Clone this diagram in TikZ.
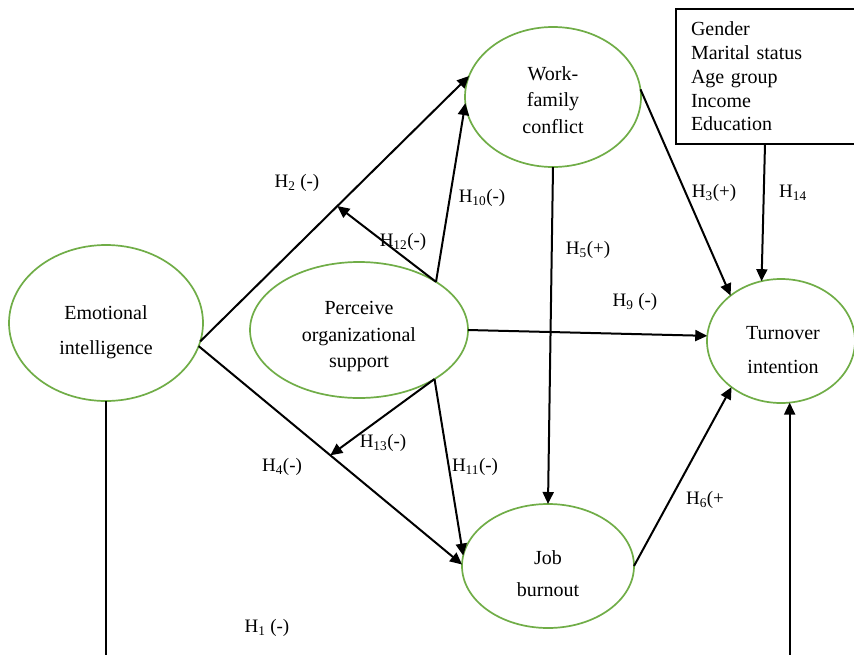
\documentclass[tikz,border=0pt]{standalone}
\usepackage{fontspec}
\setmainfont{Liberation Serif}
\usetikzlibrary{arrows.meta,calc,shapes.geometric}
\definecolor{elgreen}{RGB}{112,173,71}
\begin{document}
\begin{tikzpicture}[x=1pt,y=-1pt,
  var/.style={ellipse,draw=elgreen,line width=1.7pt,inner sep=0pt,outer sep=0pt},
  vtext/.style={align=center,inner sep=0pt},
  arr/.style={draw=black,line width=2pt,-{Triangle[length=12pt,width=11pt]}},
  hyp/.style={font=\fontsize{19}{22}\selectfont,inner sep=0pt}
]
\useasboundingbox (0,0) rectangle (854,654);
\clip (0,0) rectangle (854,654);
\fill[white] (0,0) rectangle (854,654);

% constructs
\node[var,minimum width=194pt,minimum height=156pt] (ei) at (106,323) {};
\node[var,minimum width=218pt,minimum height=136pt] (pos) at (359,330) {};
\node[var,minimum width=176pt,minimum height=140pt] (wfc) at (553,97) {};
\node[var,minimum width=172pt,minimum height=124pt] (job) at (548,566) {};
\node[var,minimum width=148pt,minimum height=124pt] (ti) at (781,341) {};

\node[vtext,font=\fontsize{20}{35}\selectfont] (eit) at (106,332) {Emotional\\intelligence};
\node[vtext,font=\fontsize{20}{26.5}\selectfont] (post) at (359,337) {Perceive\\organizational\\support};
\node[vtext,font=\fontsize{20}{26.5}\selectfont] (wfct) at (553,100) {Work-\\family\\conflict};
\node[vtext,font=\fontsize{20}{32}\selectfont] (jobt) at (548,574) {Job\\burnout};
\node[vtext,font=\fontsize{20}{34}\selectfont] (tit) at (783,350) {Turnover\\intention};

% control variables box
\node[draw,line width=1.3pt,anchor=north west,minimum height=135pt,text width=170pt,inner xsep=15pt,inner ysep=0pt,outer sep=0pt,align=left,font=\fontsize{20}{23.75}\selectfont] (ctrl) at (676,9) {Gender\\Marital status\\Age group\\Income\\Education};

% hypothesis labels
\node[hyp] (l2) at (297,183) {H\textsubscript{2} (-)};
\node[hyp] (l12) at (403,242) {H\textsubscript{12}(-)};
\node[hyp] (l10) at (482,198) {H\textsubscript{10}(-)};
\node[hyp] (l5) at (588,250) {H\textsubscript{5}(+)};
\node[hyp] (l3) at (714,193) {H\textsubscript{3}(+)};
\node[hyp] (l14) at (793,193) {H\textsubscript{14}};
\node[hyp] (l9) at (635,302) {H\textsubscript{9} (-)};
\node[hyp] (l13) at (383,443) {H\textsubscript{13}(-)};
\node[hyp] (l11) at (475,467) {H\textsubscript{11}(-)};
\node[hyp] (l4) at (282,467) {H\textsubscript{4}(-)};
\node[hyp] (l6) at (705,500) {H\textsubscript{6}(+};
\node[hyp] (l1) at (267,628) {H\textsubscript{1} (-)};

% connectors
\draw[arr] (ei.349) -- (wfc.166);
\coordinate (m2) at ($(ei.349)!0.51!(wfc.166)$);
\draw[arr] (pos.32) -- (m2);
\draw[arr] (pos.32) -- (wfc.184);
\draw[arr] (wfc.south) -- (job.north);
\draw[arr] (wfc.5) -- (ti.138);
\draw[arr] (pos.east) -- (ti.176);
\draw[arr] (ei.346) -- (job.179);
\coordinate (m4) at ($(ei.346)!0.5!(job.179)$);
\draw[arr] (pos.327) -- (m4);
\draw[arr] (pos.327) -- (job.173);
\draw[arr] (job.east) -- (ti.223);
\draw[arr] ([xshift=89pt]ctrl.south west) -- (ti.108);
\coordinate (bl) at (106,660);
\draw[line width=1.2pt] (ei.south) -- (ei.south |- bl);
\coordinate (br) at (790,660);
\draw[arr] (ti.278 |- br) -- (ti.278);
\end{tikzpicture}
\end{document}
